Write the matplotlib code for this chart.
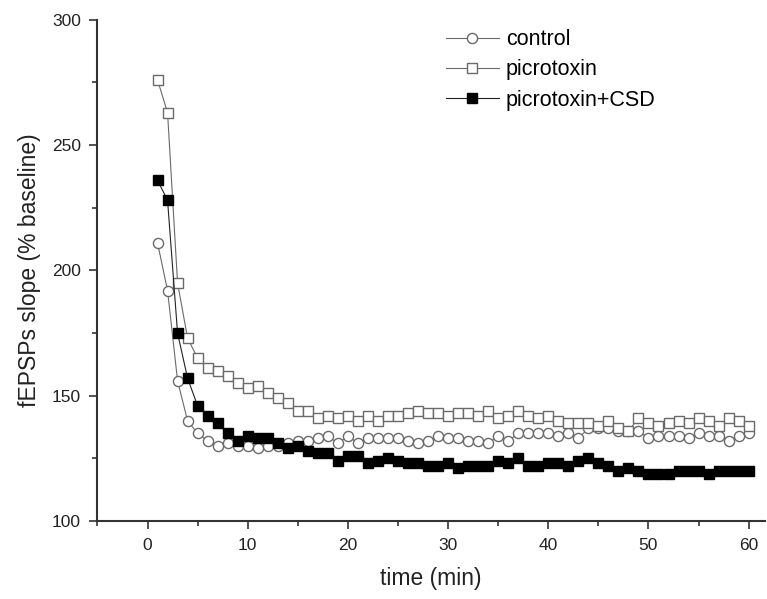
import numpy as np
import matplotlib.pyplot as plt
from matplotlib.ticker import MultipleLocator

plt.rcParams['font.family'] = ['Liberation Sans', 'DejaVu Sans']

# time points (min)
time = np.arange(1, 61)

# fEPSP slope, % of baseline
control = [211, 192, 156, 140, 135, 132, 130, 131, 130, 130,
           129, 130, 130, 131, 132, 132, 133, 134, 131, 134,
           131, 133, 133, 133, 133, 132, 131, 132, 134, 133,
           133, 132, 132, 131, 134, 132, 135, 135, 135, 135,
           134, 135, 133, 137, 137, 137, 136, 136, 136, 133,
           134, 134, 134, 133, 135, 134, 134, 132, 134, 135]

picrotoxin = [276, 263, 195, 173, 165, 161, 160, 158, 155, 153,
              154, 151, 149, 147, 144, 144, 141, 142, 141, 142,
              140, 142, 140, 142, 142, 143, 144, 143, 143, 142,
              143, 143, 142, 144, 141, 142, 144, 142, 141, 142,
              140, 139, 139, 139, 138, 140, 137, 136, 141, 139,
              138, 139, 140, 139, 141, 140, 138, 141, 140, 138]

picrotoxin_csd = [236, 228, 175, 157, 146, 142, 139, 135, 132, 134,
                  133, 133, 131, 129, 130, 128, 127, 127, 124, 126,
                  126, 123, 124, 125, 124, 123, 123, 122, 122, 123,
                  121, 122, 122, 122, 124, 123, 125, 122, 122, 123,
                  123, 122, 124, 125, 123, 122, 120, 121, 120, 119,
                  119, 119, 120, 120, 120, 119, 120, 120, 120, 120]

fig = plt.figure(figsize=(7.67, 5.99), dpi=100)
ax = fig.add_axes([0.127, 0.130, 0.870, 0.837])

gray = '#6a6a6a'
ax.plot(time, control, '-o', color=gray, lw=0.8, ms=7.3,
        mfc='white', mec=gray, mew=1.0, label='control')
ax.plot(time, picrotoxin, '-s', color=gray, lw=0.8, ms=7.0,
        mfc='white', mec=gray, mew=1.0, label='picrotoxin')
ax.plot(time, picrotoxin_csd, '-s', color='#222222', lw=0.8, ms=7.0,
        mfc='black', mec='black', mew=1.0, label='picrotoxin+CSD')

ax.set_xlim(-5, 61.6)
ax.set_ylim(100, 300)
ax.xaxis.set_major_locator(MultipleLocator(10))
ax.xaxis.set_minor_locator(MultipleLocator(5))
ax.yaxis.set_major_locator(MultipleLocator(50))
ax.yaxis.set_minor_locator(MultipleLocator(25))

for side in ['top', 'right']:
    ax.spines[side].set_visible(False)
for side in ['left', 'bottom']:
    ax.spines[side].set_linewidth(1.5)
    ax.spines[side].set_color('#333333')

ax.tick_params(which='major', length=6, width=1.2, color='#333333',
               labelsize=12.5, labelcolor='#222222', pad=6)
ax.tick_params(which='minor', length=3.5, width=1.2, color='#333333')

ax.set_xlabel('time (min)', fontsize=16.5, color='#222222', labelpad=10)
ax.set_ylabel('fEPSPs slope (% baseline)', fontsize=16.5, color='#222222',
              labelpad=8)

ax.legend(loc='upper left', bbox_to_anchor=(0.508, 1.0), frameon=False,
          fontsize=15.5, handlelength=2.45, handletextpad=0.33,
          labelspacing=0.42, borderaxespad=0.05)

fig.savefig('out.png', dpi=100)
